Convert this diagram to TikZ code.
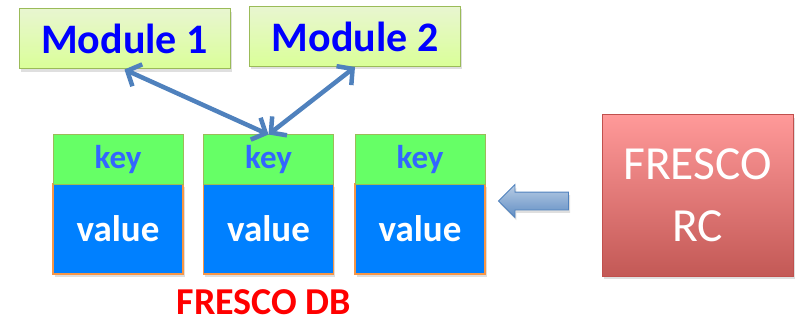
\documentclass[tikz,border=0pt]{standalone}
\usepackage{fontspec}
\setmainfont{Carlito}
\usetikzlibrary{shapes.arrows, arrows.meta, shadows}
\definecolor{modfill}{HTML}{C6E88A}
\definecolor{moddraw}{HTML}{9BBB59}
\definecolor{keyfill}{HTML}{66FF66}
\definecolor{keytext}{HTML}{3366FF}
\definecolor{valfill}{HTML}{0080FF}
\definecolor{valdraw}{HTML}{F79646}
\definecolor{rcdraw}{HTML}{C0504D}
\definecolor{linkblue}{HTML}{4F81BD}
\tikzset{
    softshadow/.style={drop shadow={opacity=0.25, shadow xshift=1.5pt, shadow yshift=-3pt}},
    modulebox/.style={draw=moddraw, line width=1pt, top color=modfill!40, bottom color=modfill!110!black, softshadow, minimum width=211pt, minimum height=60pt, font=\fontsize{42}{46}\selectfont\bfseries, text=blue},
    keybox/.style={draw=moddraw, line width=1pt, fill=keyfill, minimum width=130pt, minimum height=49pt, font=\fontsize{33}{36}\selectfont\bfseries, text=keytext},
    valuebox/.style={draw=valdraw, line width=1.2pt, fill=valfill, softshadow, minimum width=130pt, minimum height=90pt, font=\fontsize{37}{40}\selectfont\bfseries, text=white},
    rcbox/.style={draw=rcdraw, line width=1pt, top color=red!40, bottom color=rcdraw!95, softshadow, minimum width=191pt, minimum height=161pt, align=center, font=\fontsize{47.5}{62}\selectfont, text=white},
    link/.style={{Straight Barb[length=11pt,width=24pt]}-{Straight Barb[length=11pt,width=24pt]}, draw=linkblue, line width=4.5pt, line cap=round}
}

\begin{document}
\begin{tikzpicture}[x=1pt, y=-1pt]
\useasboundingbox (0,0) rectangle (798,326);
\node[modulebox] (m1) at (124.5,39) {Module 1};
\node[modulebox] (m2) at (355,36.5) {Module 2};
\foreach \i/\x in {1/118, 2/268.5, 3/420} {
    \node[valuebox] (v\i) at (\x,229) {value};
    \node[keybox] (k\i) at (\x,159.5) {key};
}
\node[rcbox] (rc) at (697.5,195.5) {FRESCO\\RC};
\node[single arrow, shape border rotate=180, draw=linkblue, line width=0.8pt, top color=linkblue!40, bottom color=linkblue!90, softshadow, inner xsep=0pt, inner ysep=8.5pt, minimum height=70pt, single arrow head extend=7.5pt, single arrow head indent=0pt] (feed) at (538,201) {};
\node[anchor=base, inner sep=0pt, font=\fontsize{38}{40}\selectfont\bfseries, text=red] (db) at (264,314) {FRESCO DB};
\draw[link] (m1.south) -- (k2.north);
\draw[link] (m2.south) -- (k2.north);
\end{tikzpicture}
\end{document}
